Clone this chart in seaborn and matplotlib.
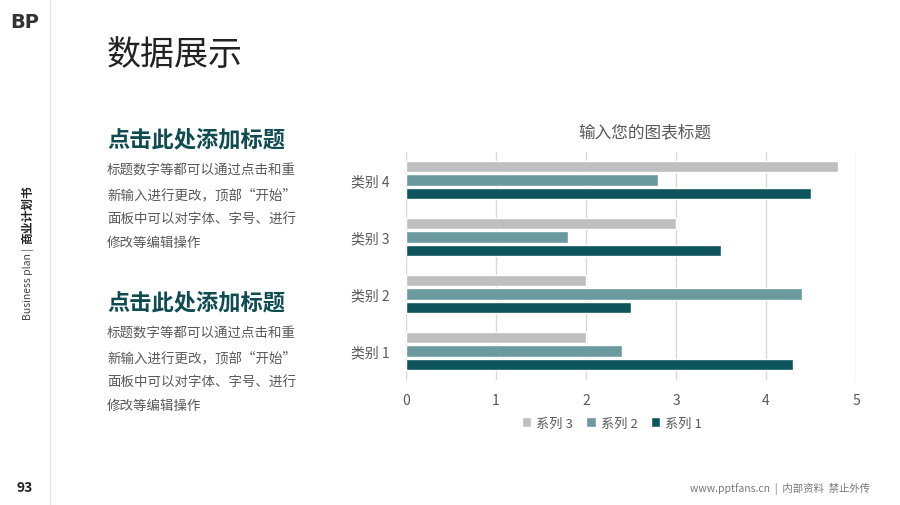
import matplotlib
matplotlib.use("Agg")
import matplotlib.pyplot as plt
import pandas as pd
import seaborn as sns

# ─── 数据 ─────────────────────────────────────────────────────────────────
categories = ["类别 4", "类别 3", "类别 2", "类别 1"]
series_names = ["系列 3", "系列 2", "系列 1"]
series3 = [4.8, 3.0, 2.0, 2.0]
series2 = [2.8, 1.8, 4.4, 2.4]
series1 = [4.5, 3.5, 2.5, 4.3]
x_ticks = [0, 1, 2, 3, 4, 5]

# ─── 颜色 ─────────────────────────────────────────────────────────────────
TEAL = "#0D545C"
MID = "#6A9A9E"
GREY = "#BFBFBF"
TXT = "#595959"
HEAD = "#0F4C52"

sns.set_theme(style="white")
plt.rcParams["font.family"] = ["Noto Sans CJK SC", "DejaVu Sans"]

df = pd.DataFrame({
    "cat": categories * 3,
    "series": [series_names[0]] * 4 + [series_names[1]] * 4 + [series_names[2]] * 4,
    "value": series3 + series2 + series1,
})

W, H = 900, 506
fig = plt.figure(figsize=(9, 5.06), dpi=100, facecolor="white")


def px(x, y):
    return x / W, 1 - y / H


# ── 页面装饰 ──────────────────────────────────────────────────────────────
fig.add_artist(plt.Line2D([50 / W, 50 / W], [0, 1], color="#E6E6E6", lw=1))
fig.text(*px(25, 23), "BP", fontsize=14, fontweight="bold", color="#333333",
         ha="center", va="center", family="DejaVu Sans")
fig.text(*px(28, 320), "Business plan | ", fontsize=7.5, color="#444444",
         rotation=90, rotation_mode="anchor", ha="left", va="center")
fig.text(*px(28, 244), "商业计划书", fontsize=8.5, color="#222222", fontweight="bold",
         rotation=90, rotation_mode="anchor", ha="left", va="center")
fig.text(*px(25, 488), "93", fontsize=10, fontweight="bold", color="#222222",
         ha="center", va="center")
fig.text(*px(870, 489), "www.pptfans.cn  |  内部资料  禁止外传", fontsize=7.5,
         color="#777777", ha="right", va="center")

fig.text(*px(107, 55), "数据展示", fontsize=24.5, color="#222222", ha="left", va="center")

body = ["标题数字等都可以通过点击和重", "新输入进行更改，顶部“开始”",
        "面板中可以对字体、字号、进行", "修改等编辑操作"]
for top in (140, 303):
    fig.text(*px(107, top), "点击此处添加标题", fontsize=16, fontweight="bold",
             color=HEAD, ha="left", va="center")
    for i, line in enumerate(body):
        fig.text(*px(107, top + 31 + i * 24), line, fontsize=9.7, color=TXT,
                 ha="left", va="center")

# ── 图表 ──────────────────────────────────────────────────────────────────
ax = fig.add_axes([406 / W, 1 - 380.5 / H, 450 / W, 228 / H])
sns.barplot(data=df, y="cat", x="value", hue="series", order=categories,
            hue_order=series_names, palette=[GREY, MID, TEAL], orient="h",
            width=0.7, gap=0.15, saturation=1, ax=ax, legend=True)
ax.set_xlim(0, 5)
ax.set_ylim(3.5, -0.5)
ax.set_xticks(x_ticks)
ax.set_xlabel("")
ax.set_ylabel("")
ax.grid(axis="x", color="#D9D9D9", lw=1)
ax.set_axisbelow(True)
for s in ax.spines.values():
    s.set_visible(False)
ax.tick_params(axis="both", length=0, labelsize=10, labelcolor=TXT)
ax.tick_params(axis="x", pad=10)
ax.tick_params(axis="y", pad=12)
fig.text(*px(645, 133), "输入您的图表标题", fontsize=12, color=TXT, ha="center", va="center")

handles, labels = ax.get_legend_handles_labels()
ax.get_legend().remove()
fig.legend(handles, labels, loc="center", bbox_to_anchor=px(612, 424), ncol=3,
           frameon=False, fontsize=9.5, labelcolor=TXT, handlelength=0.7,
           handleheight=0.7, handletextpad=0.4, columnspacing=1.0)

fig.savefig("out.png", dpi=100, facecolor="white")
